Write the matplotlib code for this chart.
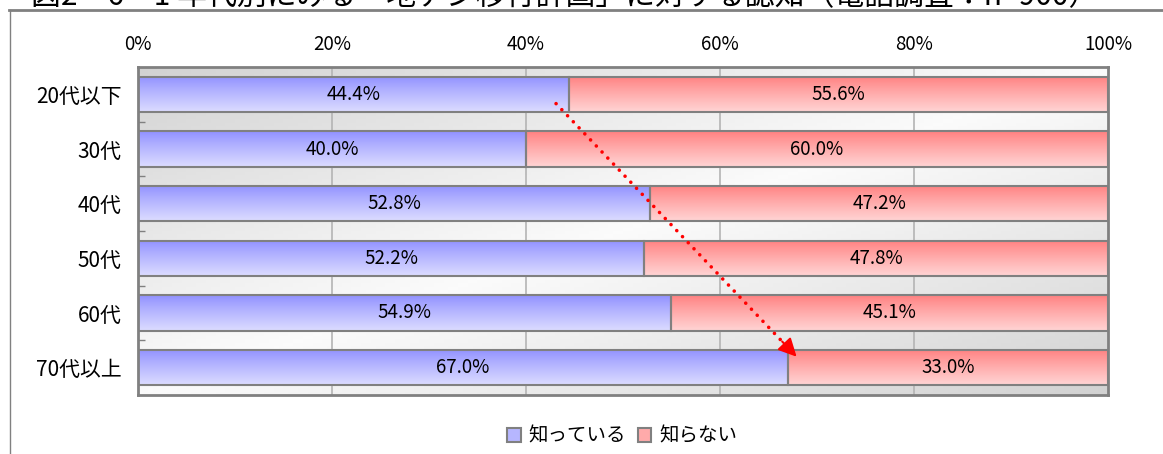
import numpy as np
import matplotlib
matplotlib.use("Agg")
import matplotlib.pyplot as plt
from matplotlib.patches import Rectangle
from matplotlib.lines import Line2D

plt.rcParams['font.family'] = ['Noto Sans CJK JP', 'DejaVu Sans']

title = "図2－6－1 年代別にみる「地デジ移行計画」に対する認知（電話調査：n=900）"
ages = ["20代以下", "30代", "40代", "50代", "60代", "70代以上"]
know = [44.4, 40.0, 52.8, 52.2, 54.9, 67.0]
dont_know = [55.6, 60.0, 47.2, 47.8, 45.1, 33.0]
series_names = ["知っている", "知らない"]
x_ticks = [0, 20, 40, 60, 80, 100]

# trend arrow (data coords: percent, row index)
arrow_start = (43.1, 0.17)
arrow_end = (67.9, 4.8)

blue_top, blue_bot = np.array([0x90, 0x90, 0xff]) / 255, np.array([0xdc, 0xdc, 0xff]) / 255
red_top, red_bot = np.array([0xff, 0x80, 0x80]) / 255, np.array([0xff, 0xd4, 0xd4]) / 255
edge = "#808080"


def vgrad(top, bot, n=64):
    t = np.linspace(0, 1, n) ** 0.9
    return (top[None, :] * (1 - t[:, None]) + bot[None, :] * t[:, None])[:, None, :]


fig = plt.figure(figsize=(11.63, 4.54), dpi=100)
ax = fig.add_axes([138 / 1163, 1 - 395 / 454, 970 / 1163, 328 / 454])

y = np.arange(len(ages))
h = 0.65

# plot area background (diagonal gradient)
gx, gy = np.meshgrid(np.linspace(0, 1, 200), np.linspace(0, 1, 100))
g = 0.985 - 0.16 * np.abs(gx + gy - 1)
ax.imshow(np.dstack([g, g, g]), extent=(0, 100, len(ages) - 0.5, -0.5),
          origin='upper', aspect='auto', zorder=0)

for xv in x_ticks[1:-1]:
    ax.axvline(xv, color="#b4b4b4", lw=1.2, zorder=1)

b1 = ax.barh(y, know, height=h, facecolor='none', edgecolor=edge, lw=1.5, zorder=3)
b2 = ax.barh(y, dont_know, left=know, height=h, facecolor='none', edgecolor=edge, lw=1.5, zorder=3)

for bars, (top, bot) in ((b1, (blue_top, blue_bot)), (b2, (red_top, red_bot))):
    for r in bars:
        x0, w = r.get_x(), r.get_width()
        y0, hh = r.get_y(), r.get_height()
        ax.imshow(vgrad(top, bot), extent=(x0, x0 + w, y0 + hh, y0),
                  origin='upper', aspect='auto', zorder=2)
        ax.text(x0 + w / 2, y0 + hh / 2, f"{w:.1f}%", ha='center', va='center',
                fontsize=13.5, zorder=4)

ax.set_xlim(0, 100)
ax.set_ylim(len(ages) - 0.5, -0.5)

ax.xaxis.tick_top()
ax.set_xticks(x_ticks)
ax.set_xticklabels([f"{v}%" for v in x_ticks], fontsize=13.5)
ax.tick_params(axis='x', length=0, pad=9)
ax.set_yticks(y)
ax.set_yticklabels(ages, fontsize=15)
ax.set_yticks(np.arange(0.5, len(ages) - 1, 1), minor=True)
ax.tick_params(axis='y', which='major', length=0, pad=12)
ax.tick_params(axis='y', which='minor', length=5, direction='in', color=edge, width=1)
for s in ax.spines.values():
    s.set_color(edge)
    s.set_linewidth(2)

# dotted trend arrow
ax.plot([arrow_start[0], arrow_end[0]], [arrow_start[1], arrow_end[1]],
        color='red', lw=2.6, ls=(0, (0.01, 2.3)), dash_capstyle='round', zorder=5)
dx = arrow_end[0] - arrow_start[0]
dy = arrow_end[1] - arrow_start[1]
ax.annotate('', xy=arrow_end, xytext=(arrow_end[0] - dx * 0.06, arrow_end[1] - dy * 0.06),
            arrowprops=dict(arrowstyle='-|>,head_length=1.1,head_width=0.55',
                            color='red', lw=1.5, shrinkA=0, shrinkB=0), zorder=6)

# legend
handles = [Rectangle((0, 0), 1, 1, facecolor=(blue_top + blue_bot) / 2, edgecolor=edge, lw=1.5),
           Rectangle((0, 0), 1, 1, facecolor=(red_top + red_bot) / 2, edgecolor=edge, lw=1.5)]
fig.legend(handles, series_names, loc='center', bbox_to_anchor=(622 / 1163, 1 - 436 / 454),
           ncol=2, frameon=False, fontsize=14, handlelength=0.7, handleheight=0.7,
           handletextpad=0.4, columnspacing=0.6)

# outer frame and clipped title
fig.add_artist(Line2D([9 / 1163, 1], [1 - 9.5 / 454, 1 - 9.5 / 454], color=edge, lw=2))
fig.add_artist(Line2D([9.5 / 1163, 9.5 / 1163], [0, 1 - 9.5 / 454], color=edge, lw=1))
fig.text(565 / 1163, 1 - 5 / 454, title, ha='center', va='baseline', fontsize=21.5)

fig.savefig("out.png", dpi=100)
